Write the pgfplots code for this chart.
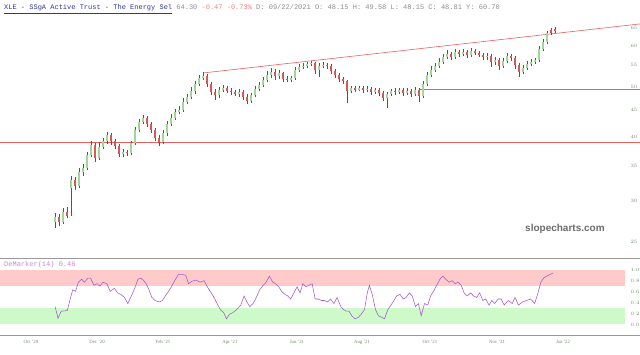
\documentclass[border=0pt]{standalone}
\usepackage{fontspec}
\setmainfont{Liberation Serif}
\newfontfamily\monof{Liberation Mono}
\newfontfamily\sansf{Liberation Sans}
\usepackage{pgfplots}
\usepackage{pgfplotstable}
\pgfplotsset{compat=1.18}
\definecolor{upc}{RGB}{160,214,150}
\definecolor{dnc}{RGB}{222,85,85}
\definecolor{outc}{RGB}{85,85,85}
\definecolor{lblc}{RGB}{110,140,110}
\definecolor{trendc}{RGB}{232,95,95}
\definecolor{demc}{RGB}{165,85,210}
\definecolor{pinkb}{RGB}{255,202,202}
\definecolor{greenb}{RGB}{206,250,202}
\definecolor{titleb}{RGB}{50,50,160}
\definecolor{titleg}{RGB}{140,140,140}
\definecolor{titler}{RGB}{238,130,130}

\pgfplotstableread{
x o h l c
55 27.30 28.43 26.58 27.92
59 27.92 28.30 26.82 27.30
63 27.30 29.07 27.06 28.55
67 28.55 29.20 27.80 28.04
71 31.78 33.53 28.04 32.93
75 32.93 33.38 31.50 32.07
79 32.07 34.74 31.78 34.13
83 34.13 35.37 33.53 34.74
87 34.74 37.31 34.44 36.82
91 36.82 39.19 36.49 38.50
95 38.50 38.85 35.69 36.33
99 36.33 39.02 36.01 38.16
103 38.16 39.72 37.82 39.19
107 39.19 40.80 38.67 40.26
111 40.26 40.62 38.50 39.19
115 39.19 39.55 37.82 38.33
119 38.33 38.67 36.49 36.98
123 36.98 37.82 36.49 37.31
127 37.31 37.65 36.66 37.15
131 37.15 39.19 36.82 38.85
135 38.85 41.73 38.50 41.17
139 41.17 43.24 40.80 42.67
143 42.67 44.02 42.29 43.43
147 43.43 43.82 41.73 42.29
151 42.29 42.67 40.62 41.17
155 41.17 41.54 39.19 39.72
159 39.72 40.26 38.33 39.02
163 39.02 41.17 38.67 40.62
167 40.62 42.86 40.08 42.29
171 42.29 44.21 41.91 43.43
175 43.43 45.22 43.05 44.61
179 44.61 45.82 44.21 45.01
183 45.01 47.49 44.61 46.65
187 46.65 48.35 46.24 47.70
191 47.70 49.88 47.28 49.00
195 49.00 51.23 48.35 50.55
199 50.55 52.62 50.11 51.92
203 51.92 53.33 51.46 52.39
207 52.39 52.86 49.88 50.55
211 50.55 51.00 48.13 48.78
215 48.78 49.44 47.07 48.13
219 48.13 49.88 47.49 49.22
223 49.22 50.33 48.78 49.66
227 49.66 50.11 48.57 49.00
231 49.00 49.66 48.13 48.78
235 48.78 49.22 47.92 48.35
239 48.35 49.44 47.70 48.78
243 48.78 49.22 47.07 47.70
247 47.70 48.35 46.24 46.86
251 46.86 48.57 46.44 48.13
255 48.13 50.11 47.70 49.44
259 49.44 51.00 49.00 50.33
263 50.33 52.15 49.88 51.46
267 51.46 53.57 51.00 52.62
271 52.62 54.30 51.92 53.33
275 53.33 54.06 51.46 52.39
279 52.39 53.81 51.69 53.09
283 53.09 53.33 51.00 51.69
287 51.69 52.39 51.00 51.46
291 51.46 52.39 51.00 51.92
295 51.92 54.54 51.46 53.81
299 53.81 55.27 53.33 54.54
303 54.54 55.52 54.06 54.78
307 54.78 55.77 54.30 55.27
311 55.27 56.02 54.78 55.52
315 55.52 55.77 52.86 53.81
319 53.81 55.52 52.15 54.78
323 54.78 55.77 54.30 55.03
327 55.03 55.52 54.06 54.78
331 54.78 55.27 52.86 53.57
335 53.57 54.06 51.92 52.62
339 52.62 53.09 51.00 51.69
343 51.69 52.15 50.55 51.23
347 51.23 51.46 46.44 49.00
351 49.00 50.11 48.57 49.66
355 49.66 50.11 48.78 49.22
359 49.22 50.11 49.00 49.66
363 49.66 50.11 48.57 49.22
367 49.22 50.11 48.78 49.44
371 49.44 49.88 48.13 48.78
375 48.78 49.66 48.35 49.22
379 49.22 49.66 47.92 48.57
383 48.57 49.00 46.86 47.49
387 47.49 48.78 45.42 48.35
391 48.35 49.44 47.92 49.00
395 49.00 49.66 48.13 48.78
399 48.78 49.66 48.35 49.22
403 49.22 49.66 47.92 48.57
407 48.57 49.66 48.13 49.00
411 49.00 49.44 47.70 48.35
415 48.35 49.88 47.92 49.22
419 49.22 49.66 46.65 47.92
423 47.92 51.23 47.49 50.55
427 50.55 53.33 50.11 52.62
431 52.62 54.78 52.15 53.81
435 53.81 55.52 53.33 54.78
439 54.78 56.77 54.30 55.77
443 55.77 57.80 55.27 57.03
447 57.03 58.84 56.52 57.80
451 57.80 58.32 56.27 57.03
455 57.03 59.10 56.52 58.32
459 58.32 58.84 57.03 57.80
463 57.80 59.10 57.28 58.32
467 58.32 58.84 56.77 57.54
471 57.54 59.37 57.03 58.58
475 58.58 59.10 57.54 58.06
479 58.06 58.58 57.03 57.54
483 57.54 58.06 56.27 57.03
487 57.03 58.06 56.27 57.28
491 57.28 57.80 54.54 55.77
495 55.77 57.03 55.03 56.27
499 56.27 56.77 53.81 54.78
503 54.78 56.77 54.30 56.02
507 56.02 58.06 55.52 57.28
511 57.28 57.80 56.02 56.77
515 56.77 57.28 54.06 55.03
519 55.03 55.52 52.15 53.33
523 53.33 55.03 52.86 54.30
527 54.30 56.02 53.81 55.27
531 55.27 56.52 54.78 55.77
535 55.77 56.77 55.27 56.27
539 56.27 59.90 55.77 59.10
543 59.10 61.81 58.58 60.98
547 60.98 64.05 60.44 63.48
551 64.34 64.90 62.92 63.48
555 64.60 65.20 63.48 64.05
}\candles

\pgfplotstableread{
x v
55.1 0.328
58.0 0.115
61.2 0.244
67.3 0.255
70.2 0.468
72.7 0.636
75.5 0.608
78.4 0.776
81.6 0.832
84.5 0.776
87.8 0.849
90.6 0.849
93.9 0.720
97.1 0.748
100.0 0.703
102.9 0.776
106.9 0.748
110.2 0.608
114.3 0.664
117.6 0.580
120.8 0.552
124.5 0.496
127.8 0.384
131.4 0.524
134.7 0.664
138.0 0.832
140.8 0.849
143.7 0.804
146.1 0.748
149.0 0.636
151.8 0.496
155.1 0.440
159.2 0.412
162.4 0.440
165.3 0.524
168.6 0.608
171.4 0.692
174.7 0.804
178.4 0.916
182.4 0.916
185.7 0.905
188.6 0.748
191.8 0.793
195.9 0.815
200.0 0.776
204.1 0.804
207.3 0.692
210.2 0.608
213.1 0.524
216.3 0.412
220.4 0.272
223.7 0.216
226.5 0.104
229.4 0.188
232.7 0.216
236.7 0.272
240.8 0.356
244.1 0.524
246.9 0.412
249.8 0.328
253.1 0.384
256.3 0.496
259.6 0.636
263.3 0.720
266.1 0.776
269.4 0.888
272.7 0.776
275.5 0.748
278.8 0.692
281.6 0.608
284.9 0.552
287.8 0.524
290.6 0.468
293.1 0.552
297.1 0.692
300.0 0.580
302.9 0.748
306.1 0.692
309.0 0.720
312.2 0.748
315.1 0.468
318.4 0.468
321.6 0.440
324.5 0.440
327.3 0.412
330.6 0.468
333.9 0.384
337.1 0.496
340.8 0.328
343.7 0.272
346.1 0.244
349.0 0.244
351.8 0.160
355.1 0.104
358.4 0.132
361.2 0.188
364.5 0.272
367.3 0.580
369.4 0.720
372.2 0.552
375.5 0.272
378.4 0.160
381.6 0.132
384.5 0.104
387.8 0.272
391.0 0.356
393.9 0.440
396.7 0.524
400.0 0.552
403.3 0.468
406.1 0.496
409.4 0.580
412.2 0.524
415.5 0.328
418.4 0.384
421.2 0.160
424.5 0.384
427.8 0.356
430.6 0.524
433.5 0.608
436.7 0.720
440.0 0.832
442.9 0.888
445.7 0.832
449.0 0.776
452.2 0.804
455.1 0.748
458.0 0.776
461.2 0.720
464.1 0.580
467.3 0.524
470.6 0.580
473.5 0.524
476.7 0.496
479.6 0.580
482.9 0.440
485.7 0.468
489.0 0.356
491.8 0.440
494.7 0.384
498.0 0.468
501.2 0.468
504.1 0.356
508.2 0.440
512.2 0.384
515.1 0.496
518.4 0.356
522.4 0.412
526.5 0.440
530.6 0.468
534.7 0.384
538.0 0.580
540.8 0.776
544.1 0.860
546.9 0.888
549.8 0.916
553.1 0.944
}\demarker

\begin{document}
\begin{tikzpicture}
\path[use as bounding box] (0pt,0pt) rectangle (640pt,354pt);

% ---------- price panel ----------
\begin{axis}[
  at={(0pt,99pt)}, anchor=south west,
  scale only axis, width=625pt, height=243pt,
  xmin=0, xmax=625,
  ymode=log, ymin=23.56, ymax=69.72,
  clip=false,
  axis line style={draw=none},
  major tick length=0pt, minor tick length=0pt,
  xtick=\empty,
  ytick={25,30,35,40,45,50,55,60,65},
  log ticks with fixed point,
  yticklabel pos=right,
  yticklabel style={font=\fontsize{4.3}{4.3}\selectfont, text=lblc, anchor=west, xshift=2pt},
]
% horizontal lines and trend line
\addplot[draw={rgb,255:red,120;green,120;blue,255}, line width=0.9pt, mark=none] coordinates {(420,49.44) (640,49.44)};
\addplot[color=trendc, line width=0.6pt, mark=none] coordinates {(0,39.02) (640,39.02)};
\addplot[color=trendc, line width=0.6pt, mark=none] coordinates {(203,53.1) (640,66.1)};
% wicks
\addplot[draw=none, mark=none,
  error bars/.cd, y dir=plus, y explicit, error mark=none,
  error bar style={draw=outc, line width=0.45pt}]
  table[x=x, y=l, y error plus expr={\thisrow{h}-\thisrow{l}}] {\candles};
% body outlines
\addplot[draw=none, mark=none,
  error bars/.cd, y dir=plus, y explicit, error mark=none,
  error bar style={draw=outc, line width=2.7pt}]
  table[x=x, y=o, y error plus expr={max(\thisrow{c}-\thisrow{o},0)}] {\candles};
\addplot[draw=none, mark=none,
  error bars/.cd, y dir=plus, y explicit, error mark=none,
  error bar style={draw=outc, line width=2.7pt}]
  table[x=x, y=c, y error plus expr={max(\thisrow{o}-\thisrow{c},0)}] {\candles};
% body fills
\addplot[draw=none, mark=none,
  error bars/.cd, y dir=plus, y explicit, error mark=none,
  error bar style={draw=upc, line width=1.7pt}]
  table[x=x, y=o, y error plus expr={max(\thisrow{c}-\thisrow{o},0)}] {\candles};
\addplot[draw=none, mark=none,
  error bars/.cd, y dir=plus, y explicit, error mark=none,
  error bar style={draw=dnc, line width=1.7pt}]
  table[x=x, y=c, y error plus expr={max(\thisrow{o}-\thisrow{c},0)}] {\candles};
\end{axis}

% ---------- DeMarker panel ----------
\begin{axis}[
  at={(0pt,19pt)}, anchor=south west,
  scale only axis, width=625pt, height=77pt,
  xmin=0, xmax=625,
  ymin=-0.193, ymax=1.22,
  clip=false,
  axis line style={draw=none},
  major tick length=0pt,
  xtick={31,97,163,230,297,362,430,497,563},
  xticklabels={Oct '20,Dec '20,Feb '21,Apr '21,Jun '21,Aug '21,Oct '21,Nov '21,Jan '22},
  xticklabel style={font=\fontsize{4.8}{5}\selectfont, text=lblc, yshift=-1.5pt},
  ytick={0,0.2,0.4,0.6,0.8,1.0},
  yticklabel pos=right,
  yticklabel style={font=\fontsize{4}{4}\selectfont, text=lblc, anchor=west, xshift=2pt,
    /pgf/number format/.cd, fixed, fixed zerofill, precision=1},
]
\fill[pinkb] (axis cs:0,0.7) rectangle (axis cs:625,1.0);
\fill[greenb] (axis cs:0,0.0) rectangle (axis cs:625,0.3);
\draw[gray!80, line width=0.8pt] (rel axis cs:0,1) -- (rel axis cs:1.024,1);
\draw[gray!80, line width=0.8pt] (rel axis cs:0,0) -- (rel axis cs:1.024,0);
\addplot[demc, line width=0.55pt] table[x=x, y=v] {\demarker};
\end{axis}

% ---------- texts ----------
\node[anchor=base west, inner sep=0pt] at (4pt,344pt) {\monof\fontsize{7}{8}\selectfont
  \textcolor{titleb}{\underline{XLE - SSgA Active Trust - The Energy Sel}}\textcolor{titleg}{\ 64.30\ }\textcolor{titler}{-0.47\ -0.73\%}\textcolor{titleg}{\ D:\ 09/22/2021\ O:\ 48.15\ H:\ 49.58\ L:\ 48.15\ C:\ 48.81\ Y:\ 60.70}};
\node[anchor=base west, inner sep=0pt] at (4pt,88pt) {\monof\fontsize{7}{8}\selectfont\textcolor{demc!70}{DeMarker(14)\ 0.46}};
\node[anchor=base west, inner sep=0pt] at (525pt,123pt) {\sansf\bfseries\fontsize{10}{12}\selectfont\textcolor{gray!85!black}{slopecharts.com}};
\end{tikzpicture}
\end{document}
